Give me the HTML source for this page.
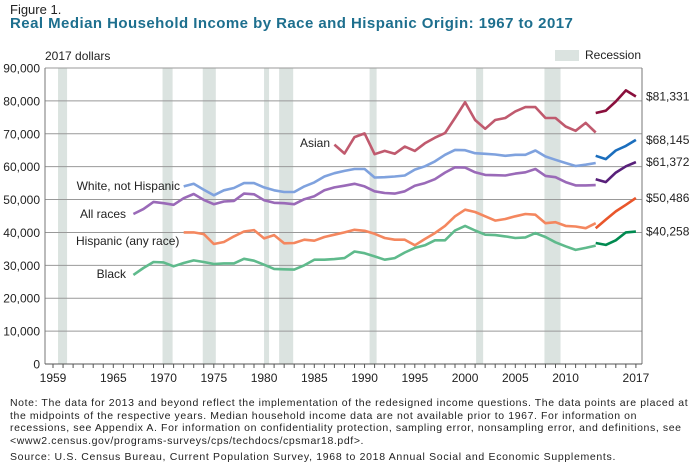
<!DOCTYPE html>
<html><head><meta charset="utf-8"><style>
body{margin:0;background:#fff;width:700px;height:465px;overflow:hidden;font-family:"Liberation Sans",sans-serif}
svg text{font-family:"Liberation Sans",sans-serif}
.note{position:absolute;left:10px;font-size:10.5px;letter-spacing:0.6px;color:#222;line-height:12.6px;width:682px}
</style></head><body>
<div style="position:absolute;left:10px;top:2px;font-size:13px;color:#222">Figure 1.</div>
<div style="position:absolute;left:10px;top:15px;font-size:15px;letter-spacing:0.45px;font-weight:bold;color:#1d6f8e">Real Median Household Income by Race and Hispanic Origin: 1967 to 2017</div>
<svg id="chart" width="700" height="400" style="position:absolute;left:0;top:0"></svg>
<div class="note" style="top:397px">Note: The data for 2013 and beyond reflect the implementation of the redesigned income questions. The data points are placed at the midpoints of the respective years. Median household income data are not available prior to 1967. For information on recessions, see Appendix A. For information on confidentiality protection, sampling error, nonsampling error, and definitions, see &lt;www2.census.gov/programs-surveys/cps/techdocs/cpsmar18.pdf&gt;.</div>
<div class="note" style="top:451px;letter-spacing:0.68px;width:690px">Source: U.S. Census Bureau, Current Population Survey, 1968 to 2018 Annual Social and Economic Supplements.</div>
<script>
const yTicks=[0,10000,20000,30000,40000,50000,60000,70000,80000,90000];
const xTickLabels=[1959,1965,1970,1975,1980,1985,1990,1995,2000,2005,2010,2017];
const recessions=[[1959.5,1960.4],[1969.9,1970.9],[1973.9,1975.2],[1980,1980.5],[1981.5,1982.9],[1990.5,1991.2],[2001.1,2001.8],[2007.9,2009.5]];
const allYears=[1967,1968,1969,1970,1971,1972,1973,1974,1975,1976,1977,1978,1979,1980,1981,1982,1983,1984,1985,1986,1987,1988,1989,1990,1991,1992,1993,1994,1995,1996,1997,1998,1999,2000,2001,2002,2003,2004,2005,2006,2007,2008,2009,2010,2011,2012,2013];
const allRaces=[45600,47100,49300,48900,48400,50400,51700,49900,48600,49400,49600,51800,51600,49800,49000,48900,48600,50100,51000,52800,53700,54200,54800,54000,52500,52000,51800,52500,54200,55000,56200,58200,59800,59700,58300,57500,57400,57300,57900,58300,59300,57200,56800,55300,54300,54300,54400];
const blackYears=allYears;
const black=[27100,29200,31000,30900,29700,30700,31500,31000,30400,30600,30600,32000,31400,30200,28900,28800,28700,30000,31700,31700,31900,32200,34200,33700,32700,31700,32200,33900,35300,36100,37600,37600,40600,42000,40600,39300,39200,38800,38300,38500,39800,38600,37000,35800,34700,35300,36000];
const whiteYears=allYears.slice(5);
const white=[54000,54800,53000,51300,52800,53500,55000,55000,53700,52800,52300,52300,54000,55200,57000,58000,58700,59300,59300,56700,56800,57000,57300,59100,60100,61600,63600,65100,65000,64100,63900,63700,63300,63600,63600,64900,63100,62100,61100,60200,60600,61100];
const hispYears=allYears.slice(5);
const hispanic=[40000,40000,39500,36500,37100,38800,40300,40700,38200,39200,36700,36800,37800,37500,38600,39300,40000,40800,40500,39600,38300,37800,37800,36100,38000,39800,42000,44900,46900,46200,44900,43600,44100,44900,45600,45400,42800,43100,42000,41800,41300,42800];
const asianYears=allYears.slice(20);
const asian=[66700,64000,69000,70100,63800,64800,63900,66100,64800,67100,68800,70200,74800,79600,74200,71500,74200,74800,76800,78100,78100,74800,74800,72200,70900,73300,70400];
const newYears=[2013,2014,2015,2016,2017];
const asianNew=[76300,77000,79800,83200,81331];
const whiteNew=[63300,62300,64900,66300,68145];
const allNew=[56200,55300,58200,60100,61372];
const hispNew=[41300,43900,46400,48400,50486];
const blackNew=[36800,36200,37600,40000,40258];
const endLabels=["$81,331","$68,145","$61,372","$50,486","$40,258"];

const svg=document.getElementById('chart');const NS='http://www.w3.org/2000/svg';
const X=yr=>53+(yr-1959)*10.05;
const Y=v=>364-v*0.003289;
function mk(t,a,p){const e=document.createElementNS(NS,t);for(const k in a)e.setAttribute(k,a[k]);(p||svg).appendChild(e);return e;}
recessions.forEach(r=>{const e=mk('rect',{x:X(r[0]),y:Y(90000),width:X(r[1])-X(r[0]),height:Y(0)-Y(90000),fill:'#dbe3e0'});

});
yTicks.forEach(v=>{if(v>0){const g=mk('line',{x1:45,x2:642,y1:Y(v),y2:Y(v),stroke:'#999','stroke-width':1});

}
const t=mk('text',{x:40,y:Y(v)+4.5,'text-anchor':'end','font-size':12,fill:'#222'});t.textContent=v.toLocaleString('en-US');

});
mk('line',{x1:45,x2:45,y1:Y(90000),y2:Y(0),stroke:'#777'});
mk('line',{x1:642,x2:642,y1:Y(90000),y2:Y(0),stroke:'#777'});
mk('line',{x1:45,x2:642,y1:Y(0),y2:Y(0),stroke:'#555'});
for(let yr=1959;yr<=2017;yr++){mk('line',{x1:X(yr),x2:X(yr),y1:Y(0),y2:Y(0)+4,stroke:'#555'});}
xTickLabels.forEach(yr=>{const t=mk('text',{x:X(yr),y:382,'text-anchor':'middle','font-size':12,fill:'#222'});t.textContent=yr;

});
function line(yrs,vals,col,name){const d=vals.map((v,i)=>(i?'L':'M')+X(yrs[i]).toFixed(1)+','+Y(v).toFixed(1)).join('');
const p=mk('path',{d:d,fill:'none',stroke:col,'stroke-width':2.6,'stroke-linejoin':'round'});

}
line(asianYears,asian,'#c05a6e','asian-line');line(newYears,asianNew,'#8a0f3c','asian-line-new');
line(whiteYears,white,'#7fa2de','white-line');line(newYears,whiteNew,'#1b6ebd','white-line-new');
line(allYears,allRaces,'#9a6ab8','all-races-line');line(newYears,allNew,'#58207a','all-races-line-new');
line(hispYears,hispanic,'#f4875f','hispanic-line');line(newYears,hispNew,'#e9562b','hispanic-line-new');
line(blackYears,black,'#5fba8c','black-line');line(newYears,blackNew,'#008a50','black-line-new');
const lastVals=[asianNew[4],whiteNew[4],allNew[4],hispNew[4],blackNew[4]];
endLabels.forEach((s,i)=>{const t=mk('text',{x:646,y:Y(lastVals[i])+4,'font-size':12,fill:'#222'});t.textContent=s;

});
[['Asian',330,147,'end'],['White, not Hispanic',180,190,'end'],['All races',126,218,'end'],['Hispanic (any race)',76,245,'start'],['Black',126,278,'end']].forEach(a=>{
const t=mk('text',{x:a[1],y:a[2],'text-anchor':a[3],'font-size':12,fill:'#222'});t.textContent=a[0];

});
const u=mk('text',{x:45,y:60,'font-size':12,fill:'#222'});u.textContent='2017 dollars';


const lr=mk('rect',{x:555,y:50,width:24,height:11,fill:'#dbe3e0'});


const lt=mk('text',{x:585,y:59,'font-size':12,fill:'#222'});lt.textContent='Recession';


</script>
</body></html>
